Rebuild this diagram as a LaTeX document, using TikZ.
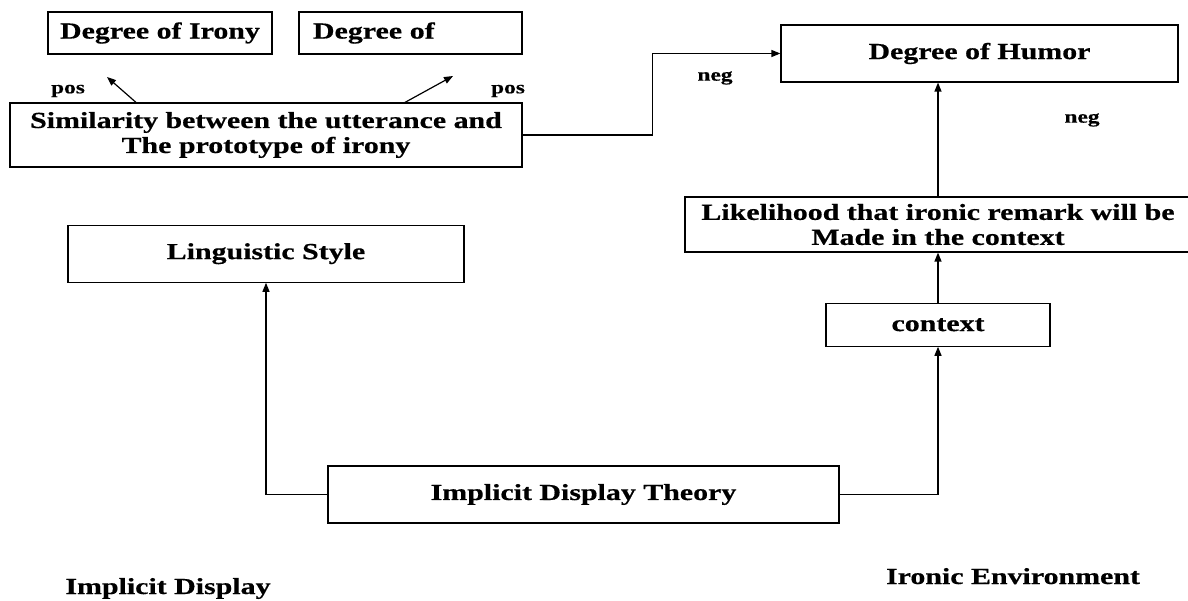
\documentclass[tikz,border=0pt]{standalone}
\usepackage{fontspec}
\newfontfamily\diagfont{Liberation Serif}[FakeStretch=1.3, FakeBold=0.5]
\usetikzlibrary{positioning,arrows.meta}

\begin{document}
\begin{tikzpicture}[x=1pt, y=-1pt,
    box/.style={rectangle, draw, line width=1.2pt, inner sep=0pt, align=center,
      font=\diagfont\bfseries\fontsize{23}{25}\selectfont},
    caption/.style={inner sep=0pt, font=\diagfont\bfseries\fontsize{23}{25}\selectfont},
    lbl/.style={font=\diagfont\bfseries\fontsize{18}{20}\selectfont},
    arr/.style={-{Triangle[length=9pt,width=7pt]}, line width=1.2pt}]
    \useasboundingbox (0,0) rectangle (1188,601);
    \clip (0,0) rectangle (1188,601);

    \node[box, minimum width=224pt, minimum height=42pt] (irony) at (160,33) {Degree of Irony};
    \node[box, minimum height=42pt, text width=195pt, inner xsep=14pt, align=left] (degof) at (410.5,33) {Degree of};
    \node[box, minimum width=512pt, minimum height=64pt] (sim) at (266,135) {Similarity between the utterance and\\The prototype of irony};
    \node[box, minimum width=397pt, minimum height=57pt] (humor) at (979.5,53.5) {Degree of Humor};
    \node[box, minimum width=396pt, minimum height=57pt, below=57pt of sim] (ling) {Linguistic Style};
    \node[box, minimum width=506pt, minimum height=55pt] (likely) at (938,224.5) {Likelihood that ironic remark will be\\Made in the context};
    \node[box, minimum width=224pt, minimum height=43pt, below=50pt of likely] (context) {context};
    \node[box, minimum width=511pt, minimum height=57pt] (idt) at (583.5,494.5) {Implicit Display Theory};

    \node[lbl] (posa) at (68,91) {pos};
    \node[lbl] (posb) at (508,91) {pos};
    \node[lbl] (nega) at (715,78) {neg};
    \node[lbl] (negb) at (1082,120) {neg};
    \node[caption, anchor=base] (implicit) at (168,594) {Implicit Display};
    \node[caption, anchor=base] (ironic) at (1013,584) {Ironic Environment};

    % links
    \coordinate (tipa) at (107,77);
    \coordinate (tipb) at (453,76);
    \draw[arr] ([xshift=-130pt]sim.north) -- (tipa);
    \draw[arr] ([xshift=139pt]sim.north) -- (tipb);
    \draw[arr] (sim.east) -- ++(130,0) |- (humor.west);
    \draw[arr] (likely.north) -- (likely.north |- humor.south);
    \draw[arr] (context.north) -- (likely.south);
    \draw[arr] (idt.east) -| (context.south);
    \draw[arr] (idt.west) -| (ling.south);
\end{tikzpicture}
\end{document}
